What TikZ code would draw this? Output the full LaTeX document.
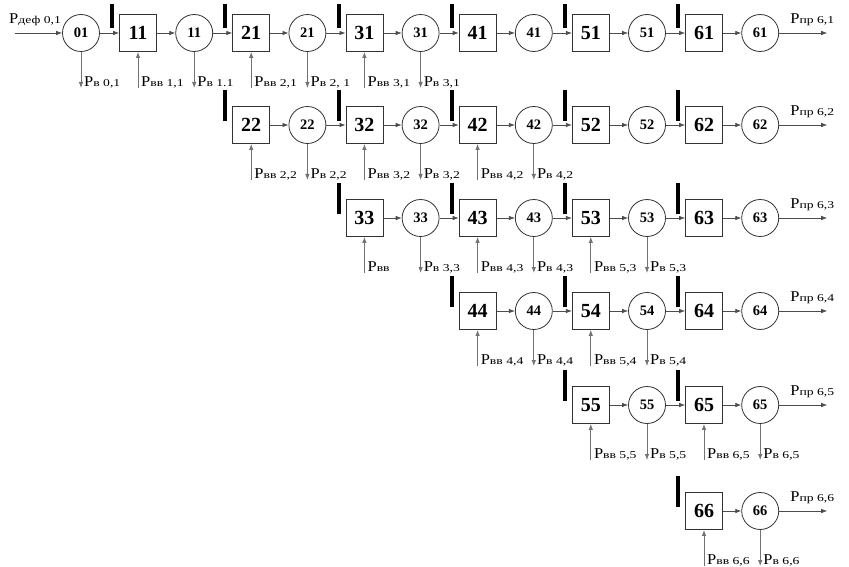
\documentclass[tikz,border=0pt]{standalone}
\usepackage{fontspec}
\setmainfont{Liberation Serif}
\newfontfamily\subfont[FakeStretch=1.3]{Liberation Serif}
\newfontfamily\labfont[FakeStretch=1.1]{Liberation Serif}
\usetikzlibrary{calc,arrows.meta}
\newcommand\Pl[1]{Р{\subfont\fontsize{10.5}{10.5}\selectfont #1}}
\tikzset{
  box/.style={draw=black!80, line width=0.8pt, minimum size=37pt, inner sep=0pt, font=\fontsize{20}{20}\selectfont\bfseries},
  circ/.style={draw=black!80, line width=0.8pt, circle, minimum size=37pt, inner sep=0pt, font=\fontsize{14.5}{14.5}\selectfont\bfseries},
  arr/.style={draw=black!70, line width=0.7pt, -{Latex[length=6pt,width=4.5pt]}},
  conn/.style={draw=black!55, line width=0.8pt},
  lab/.style={inner sep=0pt, font=\labfont\fontsize{15}{15}\selectfont},
  bar/.style={line width=4pt, black}
}
\newcommand\myin[2]{%
  \coordinate (#1-i) at ($(#1.center)+(0,55)$);
  \draw[conn, -{Latex[length=6pt,width=4.5pt]}] (#1-i) -- (#1.south);
  \node[lab, anchor=west] (#1-il) at ($(#1-i)+(3,-6)$) {\Pl{#2}};}
\newcommand\myout[2]{%
  \coordinate (#1-o) at ($(#1.center)+(0,55)$);
  \draw[conn, -{Latex[length=6pt,width=4.5pt]}] (#1.south) -- (#1-o);
  \node[lab, anchor=west] (#1-ol) at ($(#1-o)+(3,-6)$) {\Pl{#2}};}
\begin{document}
\begin{tikzpicture}[x=1pt,y=-1pt]
\useasboundingbox (0,0) rectangle (849,567);
% start
\node[circ] (c01) at (81,33) {01};
\coordinate (start) at (15,33);
\draw[arr] (start) -- (c01);
\node[lab, anchor=west] (startl) at (9,20) {\Pl{деф 0,1}};
\foreach \r/\y in {1/33,2/125,3/218,4/311,5/405,6/511} {
  \foreach \c in {\r,...,6} {
    \node[box] (b\c\r) at ({24.8+113.2*\c},\y) {\c\r};
    \node[circ] (c\c\r) at ({81+113.2*\c},\y) {\c\r};
    \draw[arr] (b\c\r) -- (c\c\r);
    \ifnum\r=1
      \draw[bar] ($(b\c\r.west)+(-7,-29)$) -- ($(b\c\r.west)+(-7,-5)$);
    \else
      \draw[bar] ($(b\c\r.west)+(-7,-35)$) -- ($(b\c\r.west)+(-7,-4)$);
    \fi
  }
  \coordinate (e\r) at ($(c6\r.center)+(67,0)$);
  \draw[arr] (c6\r) -- (e\r);
  \node[lab, anchor=west] (e\r l) at ($(c6\r.center)+(30,-13)$) {\Pl{пр 6,\r}};
}
% horizontal circle -> box links
\draw[arr] (c01) -- (b11);
\foreach \r in {1,...,6} {
  \foreach \c in {\r,...,6} {
    \ifnum\c>\r
      \pgfmathtruncatemacro\p{\c-1}
      \draw[arr] (c\p\r) -- (b\c\r);
    \fi
  }
}
% row 1
\myout{c01}{в 0,1}
\myin{b11}{вв 1,1}
\myout{c11}{в 1.1}
\myin{b21}{вв 2,1}
\myout{c21}{в 2, 1}
\myin{b31}{вв 3,1}
\myout{c31}{в 3,1}
% row 2
\myin{b22}{вв 2,2}
\myout{c22}{в 2,2}
\myin{b32}{вв 3,2}
\myout{c32}{в 3,2}
\myin{b42}{вв 4,2}
\myout{c42}{в 4,2}
% row 3
\myin{b33}{вв}
\myout{c33}{в 3,3}
\myin{b43}{вв 4,3}
\myout{c43}{в 4,3}
\myin{b53}{вв 5,3}
\myout{c53}{в 5,3}
% row 4
\myin{b44}{вв 4,4}
\myout{c44}{в 4,4}
\myin{b54}{вв 5,4}
\myout{c54}{в 5,4}
% row 5
\myin{b55}{вв 5,5}
\myout{c55}{в 5,5}
\myin{b65}{вв 6,5}
\myout{c65}{в 6,5}
% row 6
\myin{b66}{вв 6,6}
\myout{c66}{в 6,6}
\end{tikzpicture}
\end{document}
